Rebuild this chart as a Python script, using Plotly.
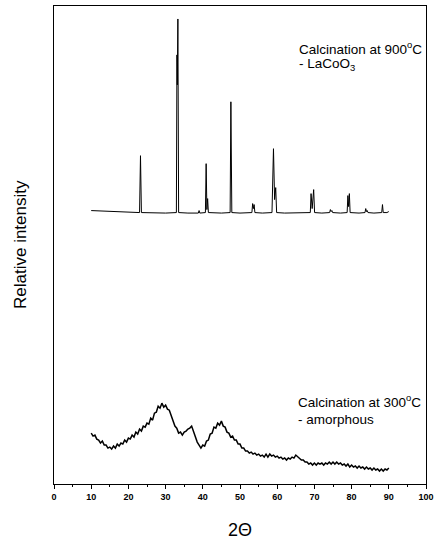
import numpy as np
import plotly.graph_objects as go

# 900 °C pattern (LaCoO3): 2-theta and relative intensity (arbitrary units)
x900 = [10, 15, 20, 23.0, 23.25, 23.5, 30, 32.9, 33.05, 33.15, 33.3, 33.5, 36,
        38.8, 39.0, 39.2, 40.7, 40.9, 41.1, 41.3, 41.5, 45, 47.35, 47.55, 47.8,
        50, 53.2, 53.4, 53.6, 53.8, 54.0, 56, 58.6, 58.8, 59.0, 59.3, 59.6, 59.85,
        62, 68.9, 69.1, 69.4, 69.8, 70.05, 72, 74.1, 74.3, 74.5, 74.7, 74.9, 77,
        78.8, 79.0, 79.2, 79.4, 79.6, 82, 83.6, 83.8, 84.0, 84.2, 84.4, 86,
        88.1, 88.3, 88.5, 89.5, 90.0]
y900 = [274, 273, 272.5, 272, 329, 272, 271.5, 272, 430, 400, 466, 272, 271.5,
        271.5, 274, 271.5, 272, 321, 275, 286, 272, 271.5, 272, 383, 272,
        271.5, 272, 281, 276, 280, 272, 271.5, 272, 305, 336, 285, 297, 272,
        271.5, 272, 291, 276, 295, 272, 271.5, 272, 275, 273, 274, 272, 271.5,
        272, 289, 278, 291, 272, 271.5, 272, 276, 273, 274, 272, 271.5,
        272, 280, 272, 272, 273]

# 300 °C pattern (amorphous), sampled every 0.5 degree from 10 to 90
y300 = [51, 48, 49, 45, 44, 41, 43, 39, 39, 36, 37, 35, 38, 36, 40, 38, 41, 40,
        44, 42, 46, 45, 49, 47, 52, 50, 55, 53, 58, 57, 61, 60, 66, 64, 71, 72,
        78, 76, 81, 77, 79, 75, 74, 68, 64, 58, 56, 51, 52, 49, 52, 53, 55, 56,
        58, 52, 48, 42, 39, 36, 39, 38, 43, 44, 50, 51, 57, 56, 61, 59, 63, 58,
        57, 52, 51, 47, 48, 44, 44, 40, 40, 36, 36, 33, 33, 31, 32, 30, 31, 29,
        30, 28, 29, 27, 30, 27, 30, 28, 29, 27, 28, 26, 27, 25, 26, 24, 26, 25,
        27, 26, 29, 27, 26, 24, 24, 22, 22, 20, 21, 19, 21, 19, 21, 20, 21, 19,
        21, 20, 22, 20, 22, 20, 22, 20, 21, 19, 20, 18, 20, 17, 19, 17, 18, 16,
        18, 16, 17, 15, 17, 15, 16, 14, 16, 14, 15, 13, 15, 13, 15, 14, 16]
x300 = np.linspace(10, 90, len(y300))

x_ticks = [0, 10, 20, 30, 40, 50, 60, 70, 80, 90, 100]

FONT = "Liberation Sans, Arial, sans-serif"

fig = go.Figure()
fig.add_trace(go.Scatter(x=x900, y=y900, mode="lines",
                         line=dict(color="black", width=1), showlegend=False))
fig.add_trace(go.Scatter(x=x300, y=y300, mode="lines",
                         line=dict(color="black", width=1.5), showlegend=False))

ann_font = dict(family=FONT, size=13.5, color="black")
fig.add_annotation(x=65.2, y=437, xref="x", yref="y", text="Calcination at 900<sup>o</sup>C",
                   showarrow=False, xanchor="left", yanchor="middle", font=ann_font)
fig.add_annotation(x=65.2, y=420, xref="x", yref="y", text="- LaCoO<sub>3</sub>",
                   showarrow=False, xanchor="left", yanchor="middle", font=ann_font)
fig.add_annotation(x=65.0, y=83, xref="x", yref="y", text="Calcination at 300<sup>o</sup>C",
                   showarrow=False, xanchor="left", yanchor="middle", font=ann_font)
fig.add_annotation(x=65.0, y=65, xref="x", yref="y", text="- amorphous",
                   showarrow=False, xanchor="left", yanchor="middle", font=ann_font)

fig.add_annotation(x=0, y=0.5, xref="paper", yref="paper", xshift=-34,
                   text="Relative intensity", textangle=-90, showarrow=False,
                   xanchor="center", yanchor="middle",
                   font=dict(family=FONT, size=17, color="black"))
fig.add_annotation(x=0.5, y=0, xref="paper", yref="paper", yshift=-46,
                   text="2Θ", showarrow=False, xanchor="center", yanchor="middle",
                   font=dict(family=FONT, size=18, color="black"))

fig.update_xaxes(range=[0, 100], tickvals=x_ticks, ticktext=[str(t) for t in x_ticks],
                 ticks="outside", ticklen=4, tickwidth=1, tickcolor="black",
                 minor=dict(dtick=5, tick0=0, ticks="outside", ticklen=2, tickcolor="black"),
                 showline=True, linecolor="black", linewidth=1, mirror=True,
                 showgrid=False, zeroline=False,
                 tickfont=dict(family=FONT, size=9, color="black", weight="bold"))
fig.update_yaxes(range=[0, 479], showticklabels=False, ticks="",
                 showline=True, linecolor="black", linewidth=1, mirror=True,
                 showgrid=False, zeroline=False)

fig.update_layout(width=439, height=542, margin=dict(l=54, r=9, t=5, b=58),
                  plot_bgcolor="white", paper_bgcolor="white", showlegend=False)

fig.write_html("out.html", config={"displayModeBar": False},
               post_script="document.body.style.margin='0';")
